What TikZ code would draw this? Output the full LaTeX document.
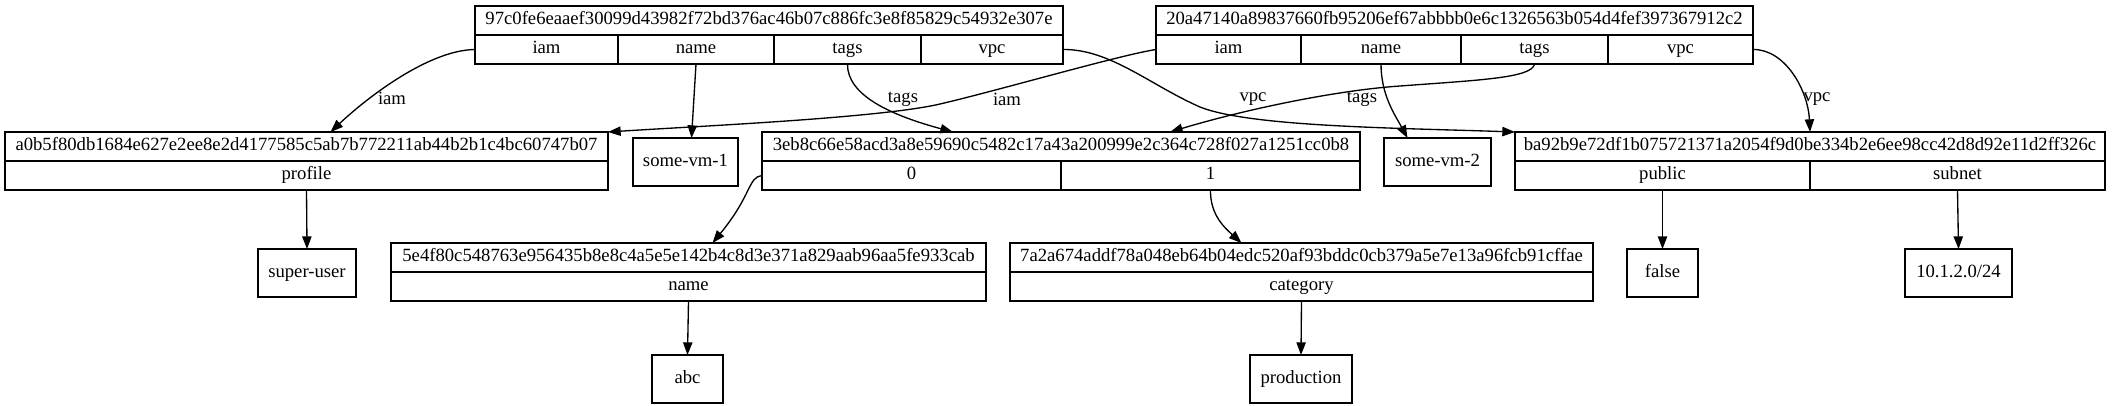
\documentclass[tikz,border=0pt]{standalone}
\usepackage{fontspec}
\setmainfont{Liberation Serif}
\usepackage{tikz}
\usetikzlibrary{shapes,arrows.meta}
\usetikzlibrary{calc}
\usetikzlibrary{positioning}
\tikzstyle{cell} = [draw, rectangle, inner sep=0pt, outer sep=0pt,
    minimum height=21.75pt, text height=9.5pt, text depth=3pt]
\tikzstyle{leaf} = [draw, rectangle, inner sep=0pt, outer sep=0pt,
    minimum height=36pt, text height=9.5pt, text depth=3pt]
\tikzstyle{elabel} = [inner sep=0pt]

\begin{document}
\begin{tikzpicture}[x=0.75pt, y=-0.75pt, >={Triangle[length=9.5pt,width=7pt]},
    line width=1pt, font=\fontsize{14}{16}\selectfont]
    \useasboundingbox (0,0) rectangle (2114,405);

    % We start by placing the top records
    \node [cell, minimum width=441pt, anchor=north west] (ahead) at (475,6) {97c0fe6eaaef30099d43982f72bd376ac46b07c886fc3e8f85829c54932e307e};
    \node [cell, minimum width=107.25pt, below right=0pt and 0pt of ahead.south west] (aiam) {iam};
    \node [cell, minimum width=117pt, right=0pt of aiam] (aname) {name};
    \node [cell, minimum width=110.25pt, right=0pt of aname] (atags) {tags};
    \node [cell, minimum width=106.5pt, right=0pt of atags] (avpc) {vpc};

    \node [cell, minimum width=447.75pt, anchor=north west] (bhead) at (1156,6) {20a47140a89837660fb95206ef67abbbb0e6c1326563b054d4fef397367912c2};
    \node [cell, minimum width=108.75pt, below right=0pt and 0pt of bhead.south west] (biam) {iam};
    \node [cell, minimum width=120pt, right=0pt of biam] (bname) {name};
    \node [cell, minimum width=110.25pt, right=0pt of bname] (btags) {tags};
    \node [cell, minimum width=108.75pt, right=0pt of btags] (bvpc) {vpc};

    % second row
    \node [cell, minimum width=452.25pt, anchor=north west] (chead) at (5,132) {a0b5f80db1684e627e2ee8e2d4177585c5ab7b772211ab44b2b1c4bc60747b07};
    \node [cell, minimum width=452.25pt, below=0pt of chead] (cprof) {profile};
    \node [leaf, minimum width=78.75pt, anchor=north west] (vmone) at (633,138) {some-vm-1};

    \node [cell, minimum width=448.5pt, anchor=north west] (dhead) at (762,132) {3eb8c66e58acd3a8e59690c5482c17a43a200999e2c364c728f027a1251cc0b8};
    \node [cell, minimum width=224.25pt, below right=0pt and 0pt of dhead.south west] (dzero) {0};
    \node [cell, minimum width=224.25pt, right=0pt of dzero] (done) {1};
    \node [leaf, minimum width=80.25pt, anchor=north west] (vmtwo) at (1384,138) {some-vm-2};

    \node [cell, minimum width=442.5pt, anchor=north west] (ehead) at (1515,132) {ba92b9e72df1b075721371a2054f9d0be334b2e6ee98cc42d8d92e11d2ff326c};
    \node [cell, minimum width=221.25pt, below right=0pt and 0pt of ehead.south west] (epub) {public};
    \node [cell, minimum width=221.25pt, right=0pt of epub] (esub) {subnet};

    % third row
    \node [leaf, minimum width=73.5pt, anchor=north west] (suser) at (258,249) {super-user};
    \node [cell, minimum width=446.25pt, anchor=north west] (fhead) at (391,243) {5e4f80c548763e956435b8e8c4a5e5e142b4c8d3e371a829aab96aa5fe933cab};
    \node [cell, minimum width=446.25pt, below=0pt of fhead] (fname) {name};
    \node [cell, minimum width=437.25pt, anchor=north west] (ghead) at (1010,243) {7a2a674addf78a048eb64b04edc520af93bddc0cb379a5e7e13a96fcb91cffae};
    \node [cell, minimum width=437.25pt, below=0pt of ghead] (gcat) {category};
    \node [leaf, minimum width=53.25pt, anchor=north west] (vfalse) at (1627,249) {false};
    \node [leaf, minimum width=80.25pt, anchor=north west] (vnet) at (1905,249) {10.1.2.0/24};

    % bottom row
    \node [leaf, minimum width=53.25pt, anchor=north west] (vabc) at (652,355) {abc};
    \node [leaf, minimum width=76.5pt, anchor=north west] (vprod) at (1250,355) {production};

    % Once the nodes are placed, connecting them is easy.
    \draw [->] (aiam.west) .. controls (430,50) and (370,95) .. ($(chead.north)+(24,0)$) node [elabel] at (392,98) {iam};
    \draw [->] (aname.south) -- ($(vmone.north)+(6,0)$);
    \draw [->] (atags.south) .. controls (847,95) and (890,115) .. ($(dhead.north)+(-108,0)$) node [elabel] at (903,99) {tags};
    \draw [->] (avpc.east) .. controls (1110,49) and (1150,85) .. (1200,107) .. controls (1250,127) and (1400,128) .. (ehead.north west) node [elabel] at (1253,99) {vpc};
    \draw [->] (biam.west) .. controls (1120,55) and (1000,90) .. (940,104) .. controls (880,118) and (700,126) .. (chead.north east) node [elabel] at (1007,99) {iam};
    \draw [->] (bname.south) .. controls (1381,95) and (1395,115) .. ($(vmtwo.north)+(-30,0)$);
    \draw [->] (btags.south) .. controls (1532,78) and (1480,80) .. (1400,86) .. controls (1340,90) and (1250,108) .. ($(dhead.north)+(109,0)$) node [elabel] at (1362,99) {tags};
    \draw [->] (bvpc.east) .. controls (1785,49) and (1808,90) .. (ehead.north) node [elabel] at (1817,99) {vpc};
    \draw [->] (cprof.south) -- (suser.north);
    \draw [->] (dzero.west) .. controls (748,177) and (752,195) .. ($(fhead.north)+(24,0)$);
    \draw [->] (done.south) .. controls (1210,215) and (1225,228) .. ($(ghead.north)+(-60,0)$);
    \draw [->] (epub.south) -- (vfalse.north);
    \draw [->] (esub.south) -- (vnet.north);
    \draw [->] (fname.south) -- (vabc.north);
    \draw [->] (gcat.south) -- (vprod.north);
\end{tikzpicture}
\end{document}
